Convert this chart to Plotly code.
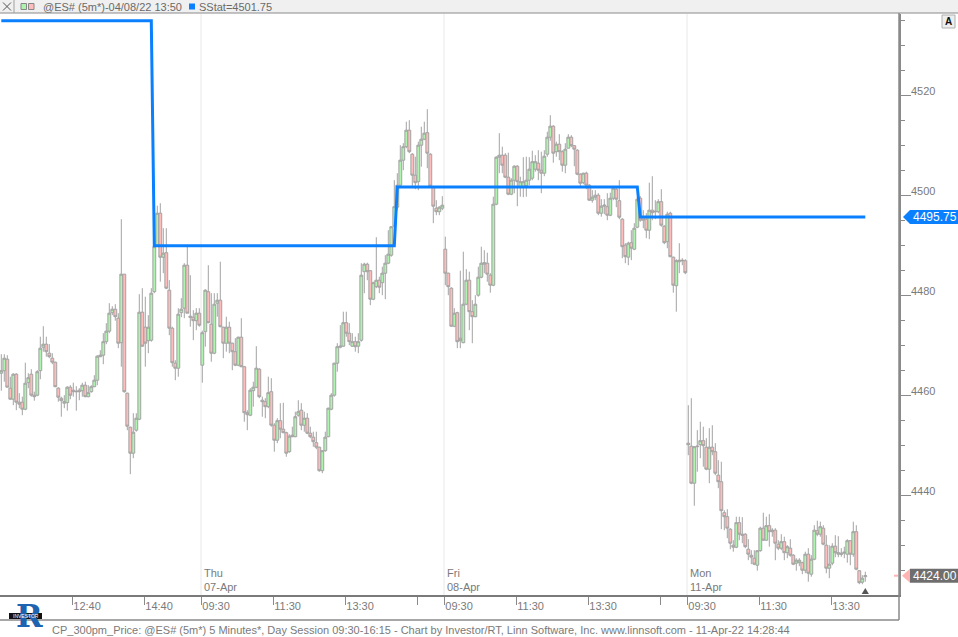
import plotly.graph_objects as go

# ---------------- data (5-minute bars, Wed 10:40 -> Mon 14:25) ----------------
opens = [
    # Wed 06-Apr (10:40-16:10)
    4464.5, 4465.0, 4467.3, 4461.5, 4459.3, 4464.3, 4458.7, 4458.7, 4457.3, 4462.6,
    4464.3, 4460.1, 4460.1, 4465.0, 4469.7, 4470.3, 4468.5, 4467.5, 4466.7, 4461.5,
    4459.5, 4458.5, 4458.6, 4461.7, 4461.1, 4460.9, 4461.1, 4461.0, 4462.1, 4459.8,
    4460.8, 4461.8, 4463.1, 4467.8, 4468.1, 4470.8, 4472.9, 4476.6, 4477.3, 4475.5,
    4470.6, 4484.3, 4460.5, 4453.7, 4448.5, 4453.1, 4455.3, 4476.7, 4473.7, 4471.0,
    4471.1, 4480.8, 4490.0, 4496.5, 4487.7, 4488.6, 4481.1, 4473.5, 4466.5, 4465.5,
    4476.6, 4477.5, 4486.1, 4475.9, 4475.7, 4475.0, 4476.5,
    # Thu 07-Apr
    4466.1, 4472.8, 4480.8, 4474.3, 4468.5, 4478.5, 4479.1, 4473.7, 4470.5, 4473.7,
    4470.5, 4468.8, 4466.1, 4471.7, 4465.8, 4456.6, 4456.1, 4461.0, 4461.7, 4465.3,
    4459.1, 4458.8, 4457.8, 4460.8, 4454.1, 4451.1, 4455.0, 4453.3, 4452.6, 4448.8,
    4452.1, 4451.8, 4456.1, 4457.1, 4454.1, 4455.5, 4452.5, 4451.7, 4450.6, 4449.7,
    4445.0, 4449.0, 4451.8, 4457.3, 4460.1, 4466.5, 4469.7, 4469.9, 4474.6, 4472.5,
    4469.9, 4470.8, 4469.9, 4471.1, 4484.8, 4486.3, 4485.0, 4479.3, 4481.8, 4483.1,
    4482.6, 4484.5, 4486.5, 4488.1, 4493.9, 4497.7, 4502.1, 4507.1, 4509.8, 4513.1,
    4508.3, 4504.1, 4502.8, 4510.1, 4511.3, 4512.6, 4508.3, 4501.7, 4497.5, 4496.8,
    4497.5,
    # Fri 08-Apr
    4489.3, 4484.5, 4481.5, 4473.9, 4476.6, 4471.5, 4470.6, 4478.3, 4483.1, 4476.8,
    4475.8, 4480.1, 4483.7, 4486.3, 4486.5, 4484.1, 4482.1, 4498.3, 4507.7, 4508.1,
    4508.1, 4503.7, 4500.3, 4503.1, 4505.9, 4501.7, 4501.7, 4502.0, 4503.1, 4503.5,
    4505.3, 4506.5, 4505.1, 4504.5, 4508.3, 4511.7, 4513.9, 4508.8, 4510.3, 4508.8,
    4506.1, 4509.5, 4511.7, 4510.0, 4509.1, 4504.3, 4502.6, 4504.5, 4502.1, 4499.1,
    4499.7, 4500.1, 4496.5, 4497.9, 4497.8, 4496.1, 4499.5, 4501.3, 4499.0, 4495.3,
    4490.1, 4487.7, 4490.6, 4489.3, 4493.7, 4499.5, 4495.8, 4495.3, 4493.1, 4497.1,
    4496.9, 4496.8, 4498.8, 4493.9, 4490.8, 4496.5, 4487.7, 4482.0, 4486.8, 4487.1,
    4487.0,
    # Mon 11-Apr
    4450.5, 4449.9, 4442.5, 4449.8, 4450.2, 4451.0, 4449.7, 4445.3, 4449.7, 4448.8,
    4444.1, 4442.8, 4436.6, 4435.8, 4433.3, 4430.1, 4429.7, 4434.6, 4432.3, 4432.3,
    4429.3, 4428.1, 4427.5, 4426.1, 4429.0, 4433.5, 4431.1, 4434.0, 4432.8, 4433.1,
    4430.3, 4429.5, 4430.8, 4428.6, 4429.5, 4428.1, 4426.5, 4426.6, 4426.6, 4425.1,
    4428.3, 4424.3, 4427.3, 4433.0, 4432.3, 4433.5, 4430.1, 4425.5, 4426.5, 4429.9,
    4428.3, 4428.5, 4428.5, 4428.3, 4431.0, 4428.3, 4432.8, 4425.0, 4422.7, 4423.8,
]
highs = [
    4468.3, 4468.3, 4468.1, 4463.8, 4464.5, 4464.5, 4460.5, 4459.8, 4466.6, 4464.5,
    4465.3, 4460.8, 4465.1, 4471.8, 4473.9, 4471.8, 4470.3, 4468.5, 4466.8, 4461.7,
    4459.8, 4460.1, 4461.9, 4462.1, 4462.6, 4461.9, 4461.5, 4462.6, 4462.8, 4462.1,
    4462.1, 4464.1, 4468.1, 4469.1, 4472.5, 4474.5, 4478.5, 4477.9, 4478.3, 4476.5,
    4495.3, 4484.3, 4460.6, 4453.8, 4456.5, 4456.5, 4480.3, 4481.5, 4479.8, 4476.1,
    4481.5, 4494.0, 4498.0, 4498.5, 4493.5, 4493.5, 4483.1, 4473.8, 4467.1, 4477.5,
    4479.5, 4486.5, 4490.1, 4484.1, 4477.1, 4477.5, 4477.5,
    4473.0, 4481.3, 4486.1, 4480.5, 4480.5, 4480.5, 4486.8, 4473.8, 4475.8, 4474.8,
    4470.6, 4471.5, 4471.8, 4475.5, 4465.9, 4457.1, 4461.5, 4462.8, 4469.9, 4465.5,
    4459.8, 4459.5, 4463.8, 4463.5, 4454.5, 4455.5, 4458.5, 4458.6, 4452.8, 4452.3,
    4453.8, 4456.8, 4459.1, 4458.5, 4456.8, 4456.5, 4453.8, 4452.8, 4452.8, 4449.8,
    4449.1, 4452.8, 4457.6, 4460.5, 4466.6, 4470.5, 4474.1, 4476.8, 4476.8, 4474.5,
    4472.5, 4471.8, 4472.5, 4486.5, 4486.6, 4486.6, 4485.1, 4482.8, 4491.7, 4483.8,
    4485.8, 4488.1, 4493.1, 4493.9, 4503.1, 4504.5, 4510.1, 4510.5, 4514.8, 4515.1,
    4508.5, 4507.8, 4510.8, 4513.8, 4514.8, 4517.3, 4508.5, 4501.9, 4499.1, 4497.9,
    4499.9,
    4491.8, 4484.6, 4481.7, 4477.5, 4476.8, 4485.0, 4488.8, 4485.3, 4484.8, 4479.1,
    4480.1, 4485.8, 4489.8, 4489.1, 4488.6, 4484.5, 4499.8, 4507.9, 4512.5, 4509.8,
    4508.5, 4508.6, 4503.5, 4506.1, 4506.1, 4503.8, 4507.7, 4507.8, 4507.7, 4509.0,
    4508.1, 4509.1, 4508.8, 4509.1, 4512.8, 4516.1, 4514.1, 4510.8, 4512.3, 4509.1,
    4510.5, 4512.3, 4512.1, 4510.1, 4509.3, 4504.5, 4504.6, 4504.8, 4502.3, 4501.1,
    4501.1, 4500.5, 4499.3, 4499.3, 4500.5, 4500.6, 4501.9, 4501.8, 4503.1, 4495.5,
    4490.5, 4490.8, 4493.1, 4494.5, 4499.7, 4499.9, 4497.1, 4496.5, 4502.6, 4503.9,
    4499.1, 4499.3, 4501.3, 4494.1, 4496.8, 4496.8, 4487.8, 4487.3, 4490.5, 4487.5,
    4487.3,
    4458.1, 4459.5, 4449.9, 4453.1, 4454.8, 4453.8, 4451.5, 4453.5, 4454.1, 4450.5,
    4447.1, 4446.8, 4437.1, 4437.3, 4433.5, 4431.1, 4435.8, 4435.8, 4435.7, 4432.5,
    4431.3, 4429.1, 4429.1, 4429.1, 4433.8, 4436.6, 4435.8, 4436.3, 4433.5, 4433.5,
    4431.1, 4432.3, 4431.8, 4430.1, 4431.3, 4428.3, 4427.5, 4427.5, 4426.8, 4428.8,
    4429.5, 4428.1, 4434.1, 4435.0, 4434.8, 4434.1, 4432.1, 4430.1, 4430.5, 4432.1,
    4431.9, 4429.5, 4429.8, 4431.3, 4431.1, 4434.8, 4434.1, 4425.1, 4424.1, 4424.8,
]
lows = [
    4461.0, 4462.8, 4461.7, 4459.2, 4458.1, 4457.1, 4457.5, 4456.1, 4457.1, 4461.5,
    4459.8, 4459.0, 4459.9, 4463.3, 4468.8, 4467.8, 4467.5, 4466.3, 4461.7, 4458.8,
    4455.8, 4457.5, 4457.0, 4459.3, 4459.8, 4457.0, 4459.1, 4459.8, 4459.7, 4459.7,
    4460.6, 4461.7, 4462.1, 4467.7, 4466.3, 4470.3, 4472.5, 4476.1, 4475.0, 4469.5,
    4465.8, 4460.6, 4453.1, 4444.3, 4447.5, 4452.8, 4455.1, 4469.8, 4465.8, 4468.5,
    4470.8, 4480.5, 4489.8, 4482.8, 4484.5, 4481.3, 4472.1, 4465.8, 4463.1, 4463.8,
    4475.7, 4475.5, 4476.5, 4473.8, 4471.1, 4473.1, 4473.8,
    4462.6, 4469.8, 4474.5, 4466.8, 4468.3, 4475.8, 4473.7, 4467.5, 4468.8, 4468.5,
    4465.1, 4465.9, 4465.9, 4465.7, 4454.8, 4453.1, 4455.9, 4457.8, 4461.5, 4459.5,
    4455.8, 4455.5, 4457.5, 4453.8, 4448.8, 4450.5, 4451.5, 4452.5, 4447.8, 4448.6,
    4451.7, 4451.7, 4455.8, 4453.1, 4452.8, 4452.3, 4451.5, 4449.8, 4449.3, 4444.8,
    4444.5, 4448.8, 4451.7, 4457.1, 4459.8, 4464.8, 4469.5, 4469.8, 4471.8, 4470.1,
    4469.8, 4468.8, 4468.5, 4470.8, 4480.5, 4483.1, 4478.1, 4479.1, 4481.5, 4480.5,
    4480.1, 4479.3, 4486.3, 4487.8, 4493.8, 4497.1, 4501.8, 4505.1, 4509.5, 4508.5,
    4501.5, 4501.3, 4501.1, 4505.8, 4511.1, 4505.5, 4501.7, 4494.5, 4496.1, 4496.1,
    4497.1,
    4482.1, 4480.1, 4473.8, 4473.7, 4469.5, 4469.5, 4470.5, 4478.1, 4473.1, 4470.5,
    4475.7, 4479.8, 4483.5, 4484.5, 4482.8, 4480.6, 4481.9, 4498.1, 4504.5, 4504.5,
    4503.5, 4500.1, 4500.1, 4500.5, 4497.9, 4499.8, 4499.7, 4499.8, 4502.1, 4503.1,
    4504.8, 4503.1, 4500.5, 4503.9, 4507.8, 4511.0, 4506.6, 4507.8, 4507.1, 4504.8,
    4504.5, 4509.5, 4509.7, 4505.9, 4504.1, 4501.7, 4502.3, 4501.3, 4499.0, 4498.6,
    4499.1, 4496.1, 4495.8, 4496.3, 4495.1, 4495.9, 4499.1, 4497.7, 4495.3, 4487.5,
    4486.5, 4486.1, 4487.1, 4489.1, 4493.5, 4494.8, 4493.5, 4491.5, 4491.3, 4495.1,
    4495.3, 4496.5, 4493.8, 4490.3, 4489.5, 4487.7, 4480.6, 4476.8, 4484.5, 4486.1,
    4484.3,
    4448.1, 4442.3, 4438.0, 4444.8, 4447.5, 4445.8, 4445.1, 4442.5, 4448.1, 4444.1,
    4441.5, 4433.3, 4433.1, 4431.5, 4429.3, 4428.8, 4429.5, 4431.1, 4430.5, 4429.5,
    4427.1, 4426.3, 4426.1, 4425.0, 4428.8, 4431.0, 4431.0, 4429.8, 4431.8, 4427.1,
    4429.1, 4429.1, 4427.1, 4427.5, 4427.8, 4426.1, 4425.0, 4425.9, 4424.3, 4424.5,
    4422.8, 4423.8, 4427.1, 4431.9, 4431.8, 4430.1, 4424.5, 4423.5, 4426.1, 4427.7,
    4427.7, 4427.8, 4427.5, 4426.6, 4426.1, 4427.8, 4425.1, 4422.3, 4422.3, 4422.8,
]
closes = [
    4465.0, 4467.5, 4461.7, 4459.3, 4464.3, 4458.7, 4458.3, 4457.3, 4462.5, 4463.6,
    4460.1, 4459.8, 4464.8, 4469.5, 4470.3, 4468.8, 4467.8, 4466.7, 4461.8, 4459.7,
    4459.0, 4458.8, 4461.7, 4460.1, 4460.8, 4460.8, 4460.8, 4462.1, 4459.8, 4460.6,
    4461.8, 4463.1, 4467.9, 4468.1, 4470.8, 4472.9, 4476.5, 4477.3, 4475.8, 4470.5,
    4484.3, 4460.8, 4453.9, 4448.5, 4452.7, 4455.5, 4476.7, 4469.9, 4470.5, 4473.7,
    4480.5, 4489.8, 4496.5, 4487.7, 4488.5, 4481.5, 4473.5, 4466.6, 4465.5, 4476.3,
    4477.3, 4486.1, 4476.5, 4475.7, 4475.0, 4476.5, 4474.1,
    4472.6, 4481.1, 4474.6, 4468.5, 4478.3, 4479.1, 4473.8, 4470.5, 4473.7, 4470.5,
    4468.8, 4466.1, 4471.7, 4465.8, 4456.6, 4456.2, 4461.1, 4461.7, 4465.5, 4459.8,
    4458.8, 4457.8, 4460.6, 4454.1, 4451.1, 4455.0, 4453.3, 4452.6, 4448.5, 4451.9,
    4451.8, 4455.8, 4456.8, 4454.1, 4455.5, 4452.5, 4451.8, 4450.8, 4449.7, 4445.0,
    4449.0, 4451.7, 4457.5, 4460.1, 4466.5, 4469.8, 4469.9, 4474.6, 4472.5, 4470.8,
    4470.8, 4469.8, 4470.8, 4484.1, 4486.3, 4484.8, 4479.3, 4482.6, 4483.1, 4481.7,
    4484.5, 4486.5, 4488.3, 4493.8, 4497.8, 4502.1, 4507.1, 4509.8, 4513.1, 4508.8,
    4504.1, 4502.6, 4510.1, 4511.3, 4512.5, 4508.5, 4501.9, 4497.9, 4496.8, 4497.7,
    4498.1,
    4484.5, 4481.8, 4473.9, 4476.5, 4470.8, 4471.0, 4478.3, 4483.1, 4476.8, 4475.8,
    4478.3, 4483.7, 4486.5, 4486.6, 4484.3, 4482.1, 4498.3, 4507.7, 4508.1, 4506.1,
    4503.7, 4500.3, 4503.1, 4505.9, 4502.8, 4502.8, 4502.8, 4503.1, 4505.3, 4506.8,
    4506.8, 4505.1, 4504.5, 4507.9, 4511.7, 4513.9, 4508.5, 4510.3, 4508.8, 4506.1,
    4509.3, 4511.7, 4510.0, 4509.3, 4504.3, 4502.5, 4504.5, 4502.1, 4499.1, 4499.7,
    4500.1, 4496.5, 4497.9, 4498.1, 4496.1, 4499.5, 4501.5, 4499.3, 4495.7, 4489.8,
    4487.8, 4490.5, 4489.5, 4493.5, 4499.3, 4495.1, 4495.1, 4493.1, 4497.1, 4496.6,
    4496.8, 4498.8, 4494.1, 4490.6, 4496.3, 4487.8, 4482.1, 4487.0, 4487.1, 4487.0,
    4484.6,
    4450.2, 4442.5, 4449.8, 4449.9, 4451.0, 4450.0, 4445.3, 4449.7, 4448.8, 4444.5,
    4442.8, 4437.0, 4435.8, 4433.5, 4430.5, 4429.7, 4434.6, 4432.3, 4432.1, 4429.8,
    4428.3, 4427.7, 4426.3, 4429.0, 4433.5, 4431.1, 4434.0, 4432.8, 4433.1, 4430.5,
    4429.5, 4430.8, 4428.6, 4429.8, 4428.1, 4426.3, 4427.1, 4427.1, 4425.1, 4428.3,
    4424.5, 4427.3, 4433.1, 4432.3, 4433.8, 4430.3, 4425.5, 4426.3, 4429.9, 4428.6,
    4428.6, 4428.3, 4428.7, 4431.0, 4428.3, 4432.8, 4425.3, 4422.6, 4423.5, 4424.0,
]

# SStat study: level and the bar index where each level starts
sstat_levels = [4535.0, 4490.0, 4501.75, 4495.75]
sstat_start_bars = [0, 51, 132, 213]

# time axis
tick_bars = [24, 48, 67, 91, 115, 139, 148, 172, 196, 220, 229, 253, 277]
tick_labels = ["12:40", "14:40", "09:30", "11:30", "13:30", "", "09:30", "11:30", "13:30", "",
               "09:30", "11:30", "13:30"]
day_start_bars = [67, 148, 229]
day_labels = ["Thu<br>07-Apr", "Fri<br>08-Apr", "Mon<br>11-Apr"]
price_ticks = [4440, 4460, 4480, 4500, 4520]
last_close_label = "4424.00"
sstat_last_label = "4495.75"

# ---------------- figure ----------------
n = len(closes)
bars = list(range(n))
sstat = []
for i in bars:
    lvl = sstat_levels[0]
    for s, v in zip(sstat_start_bars, sstat_levels):
        if i >= s:
            lvl = v
    sstat.append(lvl)

W, H = 958, 637
ML, MR, MT, MB = 0, 59, 14, 42
PW = W - ML - MR
PH = H - MT - MB
PXU = 3.0  # pixels per bar
X0 = -1.3 / PXU
XR = [X0, X0 + PW / PXU]
Y_TOP = 4536.34
Y_BOT = Y_TOP - PH / 5.0
OFF = -0.43  # bar boundary offset


def px(xp):
    return (xp - ML) / PW


def py(yp):
    return (H - MB - yp) / PH


GRAY_TXT = "#7a7a7a"
FONT = "Liberation Sans"

fig = go.Figure()
fig.add_trace(go.Candlestick(
    x=bars, open=opens, high=highs, low=lows, close=closes,
    increasing=dict(line=dict(color="#a3a3a3", width=1), fillcolor="#aef3ae"),
    decreasing=dict(line=dict(color="#a3a3a3", width=1), fillcolor="#ffbcbc"),
    whiskerwidth=0, hoverinfo="skip", showlegend=False,
))
fig.add_trace(go.Scatter(
    x=bars, y=sstat, mode="lines", line=dict(color="#0a80ff", width=3),
    hoverinfo="skip", showlegend=False,
))

shapes = []
annotations = []

# day separators
for b in day_start_bars:
    shapes.append(dict(type="line", xref="x", yref="paper", x0=b + OFF, x1=b + OFF, y0=0, y1=1,
                       line=dict(color="#e8e8e8", width=1), layer="below"))
for b, t in zip(day_start_bars, day_labels):
    annotations.append(dict(x=b + OFF, y=0, xref="x", yref="paper", text=t, showarrow=False,
                            xanchor="left", yanchor="bottom", align="left", xshift=1, yshift=0,
                            font=dict(family=FONT, size=11, color=GRAY_TXT)))

# header bar
shapes.append(dict(type="rect", xref="paper", yref="paper", x0=px(0), x1=px(W), y0=py(13), y1=py(0),
                   fillcolor="#f0f0f0", line=dict(width=0)))
shapes.append(dict(type="line", xref="paper", yref="paper", x0=px(0), x1=px(W), y0=py(13), y1=py(13),
                   line=dict(color="#8a8a8a", width=1)))
shapes.append(dict(type="line", xref="paper", yref="paper", x0=px(14), x1=px(14), y0=py(13), y1=py(0),
                   line=dict(color="#a0a0a0", width=1)))
shapes.append(dict(type="line", xref="paper", yref="paper", x0=px(3), x1=px(11), y0=py(2.5), y1=py(10.5),
                   line=dict(color="#555555", width=1)))
shapes.append(dict(type="line", xref="paper", yref="paper", x0=px(3), x1=px(11), y0=py(10.5), y1=py(2.5),
                   line=dict(color="#555555", width=1)))
shapes.append(dict(type="rect", xref="paper", yref="paper", x0=px(21), x1=px(26.5), y0=py(9.5), y1=py(3.5),
                   fillcolor="#aef3ae", line=dict(color="#888888", width=1)))
shapes.append(dict(type="rect", xref="paper", yref="paper", x0=px(28.5), x1=px(34), y0=py(9.5), y1=py(3.5),
                   fillcolor="#ffbcbc", line=dict(color="#888888", width=1)))
shapes.append(dict(type="rect", xref="paper", yref="paper", x0=px(189), x1=px(195), y0=py(9.5), y1=py(3.5),
                   fillcolor="#0a80ff", line=dict(width=0)))
annotations.append(dict(x=px(41), y=py(6.5), xref="paper", yref="paper", text="@ES# (5m*)-04/08/22 13:50",
                        showarrow=False, xanchor="left", yanchor="middle",
                        font=dict(family=FONT, size=11, color="#6a6a6a")))
annotations.append(dict(x=px(197), y=py(6.5), xref="paper", yref="paper", text="SStat=4501.75",
                        showarrow=False, xanchor="left", yanchor="middle",
                        font=dict(family=FONT, size=11, color="#6a6a6a")))

# "A" button
shapes.append(dict(type="rect", xref="paper", yref="paper", x0=px(942), x1=px(955), y0=py(28), y1=py(15),
                   fillcolor="#eeeeee", line=dict(color="#b0b0b0", width=1)))
annotations.append(dict(x=px(948.5), y=py(21.5), xref="paper", yref="paper", text="<b>A</b>", showarrow=False,
                        xanchor="center", yanchor="middle", font=dict(family=FONT, size=10, color="#111111")))

# axis box extensions
shapes.append(dict(type="line", xref="paper", yref="paper", x0=px(0), x1=px(PW), y0=py(620), y1=py(620),
                   line=dict(color="#8a8a8a", width=1.5)))
shapes.append(dict(type="line", xref="paper", yref="paper", x0=px(PW), x1=px(PW), y0=py(620), y1=py(13),
                   line=dict(color="#8a8a8a", width=1.5)))

# price axis labels (drawn just above their tick marks)
for p in price_ticks:
    annotations.append(dict(x=px(909), y=p, xref="paper", yref="y", text=str(p), showarrow=False,
                            xanchor="left", yanchor="middle", yshift=5,
                            font=dict(family=FONT, size=11, color=GRAY_TXT)))

# price markers on the right axis
half = 7 / 5.0
v = float(sstat_last_label)
shapes.append(dict(type="path", xref="paper", yref="y",
                   path=f"M {px(903)},{v} L {px(910)},{v + half} L {px(958)},{v + half} "
                        f"L {px(958)},{v - half} L {px(910)},{v - half} Z",
                   fillcolor="#0a80ff", line=dict(width=0)))
annotations.append(dict(x=px(911), y=v, xref="paper", yref="y", text=sstat_last_label, showarrow=False,
                        xanchor="left", yanchor="middle", font=dict(family=FONT, size=12, color="white")))
v = float(last_close_label)
shapes.append(dict(type="path", xref="paper", yref="y",
                   path=f"M {px(902)},{v} L {px(910)},{v + half} L {px(910)},{v - half} Z",
                   fillcolor="#ffb3b3", line=dict(width=0)))
shapes.append(dict(type="line", xref="paper", yref="y", x0=px(894), x1=px(898), y0=v, y1=v,
                   line=dict(color="#ffb3b3", width=2)))
shapes.append(dict(type="rect", xref="paper", yref="y", x0=px(910), x1=px(958), y0=v - half, y1=v + half,
                   fillcolor="#6e6e6e", line=dict(width=0)))
annotations.append(dict(x=px(911), y=v, xref="paper", yref="y", text=last_close_label, showarrow=False,
                        xanchor="left", yanchor="middle", font=dict(family=FONT, size=12, color="white")))

# last-bar marker at bottom
lb = n - 1
shapes.append(dict(type="path", xref="x", yref="paper",
                   path=f"M {lb - 1.2},{py(594)} L {lb + 1.2},{py(594)} L {lb},{py(588)} Z",
                   fillcolor="#555555", line=dict(width=0)))

# footer
annotations.append(dict(x=px(50), y=py(630), xref="paper", yref="paper",
                        text="CP_300pm_Price: @ES# (5m*) 5 Minutes*, Day Session 09:30-16:15 - Chart by "
                             "Investor/RT, Linn Software, Inc. www.linnsoft.com - 11-Apr-22 14:28:44",
                        showarrow=False, xanchor="left", yanchor="middle",
                        font=dict(family=FONT, size=11, color="#7a7a7a")))
# logo: blue "R" with a black "INVESTOR" band across it
annotations.append(dict(x=px(29), y=py(616), xref="paper", yref="paper", text="<b>R</b>", showarrow=False,
                        xanchor="center", yanchor="middle",
                        font=dict(family="DejaVu Serif", size=32, color="#1d63b0")))
shapes.append(dict(type="rect", xref="paper", yref="paper", x0=px(9), x1=px(42), y0=py(619), y1=py(613),
                   fillcolor="#111111", line=dict(width=0)))
annotations.append(dict(x=px(25.5), y=py(616), xref="paper", yref="paper", text="INVESTOR", showarrow=False,
                        xanchor="center", yanchor="middle",
                        font=dict(family=FONT, size=5, color="white")))

fig.update_layout(
    width=W, height=H,
    margin=dict(l=ML, r=MR, t=MT, b=MB, pad=0),
    paper_bgcolor="white", plot_bgcolor="white",
    showlegend=False, boxgap=0.05, boxgroupgap=0,
    shapes=shapes, annotations=annotations,
    xaxis=dict(
        range=XR, rangeslider=dict(visible=False),
        tickmode="array", tickvals=[b + OFF for b in tick_bars], ticktext=tick_labels,
        ticks="outside", ticklen=8, tickcolor="#8a8a8a", tickwidth=1,
        ticklabelposition="outside right",
        tickfont=dict(family=FONT, size=11, color=GRAY_TXT),
        showline=True, linecolor="#7a7a7a", linewidth=1.5,
        showgrid=False, zeroline=False, fixedrange=True,
    ),
    yaxis=dict(
        range=[Y_BOT, Y_TOP], side="right",
        tickmode="array", tickvals=price_ticks, showticklabels=False,
        ticks="outside", ticklen=10, tickcolor="#8a8a8a", tickwidth=1,
        minor=dict(dtick=5, ticks="outside", ticklen=4, tickcolor="#8a8a8a", showgrid=False),
        showline=True, linecolor="#8a8a8a", linewidth=1.5,
        showgrid=False, zeroline=False, fixedrange=True,
    ),
)

fig.write_html("out.html", config={"displayModeBar": False},
               post_script="document.body.style.margin='0px';")
